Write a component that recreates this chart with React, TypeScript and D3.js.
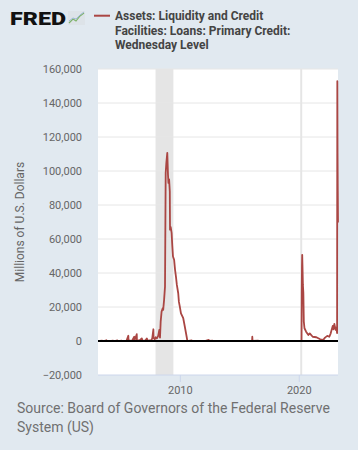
import React from 'react';
import * as d3 from 'd3';

const obsDates = [
  '2003-01-29', '2003-03-26', '2003-06-04', '2003-06-11', '2003-08-20', '2003-10-15', '2003-10-22',
  '2004-01-07', '2004-03-10', '2004-05-05', '2004-05-12', '2004-07-21', '2004-09-15', '2004-09-22', '2004-12-01',
  '2005-02-02', '2005-02-09', '2005-04-20', '2005-06-22', '2005-08-17', '2005-08-24', '2005-10-05', '2005-12-07',
  '2006-02-15', '2006-02-22', '2006-05-03', '2006-05-10', '2006-07-05', '2006-07-12', '2006-10-04', '2006-10-11',
  '2006-10-18', '2006-12-06', '2007-01-10', '2007-03-07', '2007-03-14', '2007-03-21', '2007-05-16', '2007-07-11',
  '2007-08-22', '2007-09-26', '2007-10-03', '2007-11-07', '2007-12-05', '2008-01-09', '2008-02-20', '2008-03-26',
  '2008-04-16', '2008-05-07', '2008-06-04', '2008-07-09', '2008-07-23', '2008-08-20', '2008-09-17', '2008-10-08',
  '2008-10-29', '2008-11-26', '2008-12-17', '2008-12-31', '2009-01-21', '2009-02-11', '2009-02-18', '2009-03-11',
  '2009-04-08', '2009-04-29', '2009-05-20', '2009-06-24', '2009-07-22', '2009-08-19', '2009-09-16', '2009-10-28',
  '2009-11-18', '2009-12-16', '2010-01-20', '2010-03-31', '2010-05-19', '2010-07-14', '2010-08-04',
  '2010-09-15', '2010-12-15', '2010-12-22', '2011-04-06', '2011-08-10', '2011-11-09', '2012-02-15', '2012-05-23',
  '2012-05-30', '2012-09-19', '2012-09-26', '2013-02-13', '2013-07-10', '2013-11-13', '2014-04-09', '2014-08-06',
  '2014-08-13', '2015-02-11', '2015-08-12', '2016-01-13', '2016-01-20', '2016-01-27', '2016-07-20', '2016-07-27',
  '2017-01-11', '2017-06-14', '2017-12-13', '2018-06-13', '2018-12-12', '2019-06-12', '2019-12-11', '2020-03-11',
  '2020-03-18', '2020-03-25', '2020-04-01', '2020-04-08', '2020-04-22', '2020-05-06', '2020-05-20', '2020-06-10',
  '2020-07-29', '2020-10-07', '2020-11-18', '2021-02-17', '2021-06-09', '2021-10-06', '2022-01-05', '2022-03-02',
  '2022-05-11', '2022-07-13', '2022-08-24', '2022-10-26', '2022-11-16', '2022-12-14', '2023-01-04', '2023-01-25',
  '2023-02-15', '2023-03-08', '2023-03-15', '2023-03-22', '2023-03-29', '2023-04-05',
];
const obsValues = [
  20, 60, 150, 10, 40, 420, 10,
  80, 10, 250, 20, 30, 300, 10, 60,
  180, 10, 40, 100, 3100, 60, 250, 40,
  2500, 100, 4000, 50, 300, 20, 1500, 1200,
  80, 200, 30, 1500, 1400, 100, 300, 150,
  1500, 6900, 1800, 1000, 2200, 1500, 3000, 6500,
  2000, 11400, 17300, 19300, 18300, 24200, 32000, 99000,
  105000, 110700, 98000, 93000, 95000, 88000, 65500, 67000,
  63600, 56000, 49700, 47800, 42000, 37900, 33000, 28100,
  23000, 20200, 16300, 13400, 8400, 2500, 100,
  30, 400, 20, 10, 60, 10, 20, 600,
  10, 200, 10, 10, 30, 10, 20, 100,
  10, 30, 10, 50, 2500, 40, 150, 10,
  20, 10, 30, 10, 40, 20, 50, 30,
  28200, 44000, 50700, 45000, 33000, 28300, 11400, 7500,
  5500, 3500, 4500, 2500, 2200, 1000, 600, 2000,
  3000, 2500, 4500, 8900, 6900, 10000, 8100, 6500,
  8000, 4600, 152850, 110240, 88190, 69700,
];

const recessionStarts = ['2007-12-01', '2020-02-01'];
const recessionEnds = ['2009-06-01', '2020-04-01'];

const yTicks = [-20000, 0, 20000, 40000, 60000, 80000, 100000, 120000, 140000, 160000];
const xTickYears = [2010, 2020];

const seriesTitle = ['Assets: Liquidity and Credit', 'Facilities: Loans: Primary Credit:', 'Wednesday Level'];
const sourceLines = ['Source: Board of Governors of the Federal Reserve', 'System (US)'];

const W = 358;
const H = 450;
const plot = { left: 98, right: 338, top: 69, bottom: 375 };
const font = 'Roboto, "Noto Sans", sans-serif';

export default function App() {
  const parse = d3.timeParse('%Y-%m-%d');
  const data = obsDates.map((d, i) => ({ date: parse(d)!, value: obsValues[i] }));

  const x = d3.scaleTime()
    .domain([parse('2003-01-29')!, parse('2023-04-05')!])
    .range([plot.left, plot.right]);
  const y = d3.scaleLinear().domain([-20000, 160000]).range([plot.bottom, plot.top]);

  const line = d3.line<{ date: Date; value: number }>()
    .x((d) => x(d.date))
    .y((d) => y(d.value));

  const fmt = d3.format(',');

  return (
    <svg width={W} height={H} style={{ position: 'absolute', left: 0, top: 0, fontFamily: font }}>
      <rect width={W} height={H} fill="#e1e9f0" />

      {/* logo */}
      <text x={10} y={25} fontSize={19} fontWeight={900} fill="#111" textLength={56} lengthAdjust="spacingAndGlyphs">
        FRED
      </text>
      <rect x={68} y={11} width={17} height={14} fill="#dde3e8" />
      <polyline points="69,23 73,19 76,21 80,16 84,13" fill="none" stroke="#7fb36a" strokeWidth={1.2} />
      <polyline points="69,21 73,18 76,19 80,15 84,12" fill="none" stroke="#9fb9d6" strokeWidth={1} />

      {/* legend */}
      <line x1={94} x2={110} y1={15.7} y2={15.7} stroke="#aa4643" strokeWidth={2} />
      {seriesTitle.map((t, i) => (
        <text key={t} x={115} y={20 + i * 14.6} fontSize={12} fontWeight={700} fill="#444">
          {t}
        </text>
      ))}

      {/* plot area */}
      <rect x={plot.left} y={plot.top} width={plot.right - plot.left} height={plot.bottom - plot.top} fill="#fff" />
      {recessionStarts.map((s, i) => (
        <rect
          key={s}
          x={x(parse(s)!)}
          y={plot.top}
          width={x(parse(recessionEnds[i])!) - x(parse(s)!)}
          height={plot.bottom - plot.top}
          fill="#e5e5e5"
        />
      ))}
      {yTicks.map((t) => (
        <g key={t}>
          {t !== 0 && t !== -20000 && (
            <line x1={plot.left} x2={plot.right} y1={y(t)} y2={y(t)} stroke="#e6e6e6" strokeWidth={1} />
          )}
          <text x={82} y={y(t)} dy="0.35em" textAnchor="end" fontSize={11} fill="#666">
            {fmt(t)}
          </text>
        </g>
      ))}

      <path d={line(data) || ''} fill="none" stroke="#aa4643" strokeWidth={1.8} strokeLinejoin="round" />

      <line x1={plot.left} x2={plot.right} y1={y(0)} y2={y(0)} stroke="#000" strokeWidth={2} />

      {/* x axis */}
      <line x1={plot.left} x2={plot.right} y1={plot.bottom} y2={plot.bottom} stroke="#ccd6eb" strokeWidth={1} />
      {xTickYears.map((yr) => {
        const px = x(new Date(yr, 0, 1));
        return (
          <g key={yr}>
            <line x1={px} x2={px} y1={plot.bottom} y2={plot.bottom + 7} stroke="#ccd6eb" strokeWidth={1} />
            <text x={px} y={394} textAnchor="middle" fontSize={11} fill="#666">
              {yr}
            </text>
          </g>
        );
      })}

      <text
        transform={`translate(24,${(plot.top + plot.bottom) / 2}) rotate(-90)`}
        textAnchor="middle"
        fontSize={12}
        fill="#666"
      >
        Millions of U.S. Dollars
      </text>

      {sourceLines.map((s, i) => (
        <text key={s} x={17} y={413 + i * 19} fontSize={14} fill="#707070">
          {s}
        </text>
      ))}
    </svg>
  );
}
